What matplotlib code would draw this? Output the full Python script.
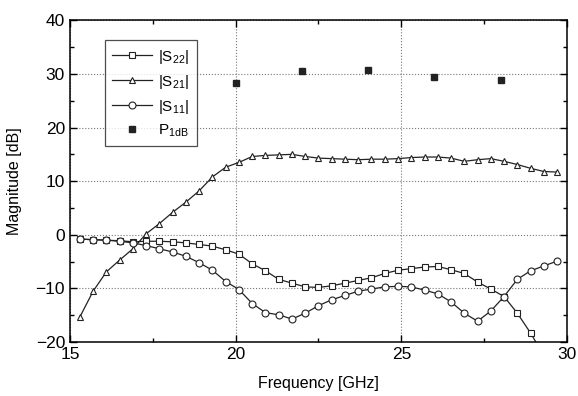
import matplotlib
matplotlib.use('Agg')
import numpy as np
import matplotlib.pyplot as plt
from matplotlib.ticker import MultipleLocator

plt.rcParams['font.family'] = ['Liberation Sans', 'DejaVu Sans']
plt.rcParams['mathtext.fontset'] = 'custom'
plt.rcParams['mathtext.rm'] = 'Liberation Sans'
plt.rcParams['mathtext.it'] = 'Liberation Sans'

# Frequency points (GHz)
freq = [15.3, 15.7, 16.1, 16.5, 16.9, 17.3, 17.7, 18.1, 18.5, 18.9,
        19.3, 19.7, 20.1, 20.5, 20.9, 21.3, 21.7, 22.1, 22.5, 22.9,
        23.3, 23.7, 24.1, 24.5, 24.9, 25.3, 25.7, 26.1, 26.5, 26.9,
        27.3, 27.7, 28.1, 28.5, 28.9, 29.3, 29.7]

s22 = [-0.8, -0.9, -1.0, -1.1, -1.3, -1.2, -1.2, -1.3, -1.5, -1.8,
       -2.1, -2.8, -3.6, -5.4, -6.7, -8.3, -9.0, -9.7, -9.8, -9.5,
       -9.0, -8.5, -8.0, -7.2, -6.6, -6.3, -6.0, -5.9, -6.5, -7.2,
       -8.8, -10.1, -11.5, -14.6, -18.3, -22.5, np.nan]

s21 = [-15.3, -10.5, -6.9, -4.7, -2.6, 0.2, 2.1, 4.2, 6.1, 8.2,
       10.8, 12.6, 13.5, 14.6, 14.8, 14.9, 15.0, 14.6, 14.3, 14.2,
       14.1, 14.0, 14.1, 14.1, 14.2, 14.4, 14.5, 14.5, 14.3, 13.7,
       14.0, 14.2, 13.7, 13.1, 12.4, 11.8, 11.7]

s11 = [-0.8, -0.9, -1.0, -1.2, -1.5, -2.0, -2.6, -3.2, -4.0, -5.2,
       -6.6, -8.7, -10.2, -12.8, -14.5, -14.9, -15.7, -14.6, -13.2, -12.1,
       -11.3, -10.5, -10.1, -9.7, -9.6, -9.7, -10.3, -11.0, -12.5, -14.6,
       -16.1, -14.2, -11.5, -8.3, -6.7, -5.8, -4.9]

p1db_freq = [20, 22, 24, 26, 28]
p1db = [28.3, 30.6, 30.8, 29.4, 28.9]

fig = plt.figure(figsize=(5.78, 3.96), dpi=100)
ax = fig.add_axes([0.121, 0.136, 0.860, 0.813])

mk = dict(color='#222222', lw=0.9, markersize=5, markerfacecolor='white',
          markeredgewidth=0.8)
ax.plot(freq, s22, marker='s', label=r'$|S_{22}|$', **mk)
ax.plot(freq, s21, marker='^', label=r'$|S_{21}|$', **mk)
ax.plot(freq, s11, marker='o', label=r'$|S_{11}|$', **mk)
ax.plot(p1db_freq, p1db, 's', color='#222222', markersize=5,
        linestyle='none', label=r'$P_{1dB}$')

ax.set_xlim(15, 30)
ax.set_ylim(-20, 40)
ax.xaxis.set_major_locator(MultipleLocator(5))
ax.xaxis.set_minor_locator(MultipleLocator(2.5))
ax.yaxis.set_major_locator(MultipleLocator(10))
ax.yaxis.set_minor_locator(MultipleLocator(5))
ax.tick_params(which='both', direction='in', top=True, right=True,
               labelsize=12.5, width=1)
ax.tick_params(which='major', length=5)
ax.tick_params(which='minor', length=3)
ax.grid(True, which='major', linestyle=':', color='#777777', lw=0.8)
for s in ax.spines.values():
    s.set_linewidth(1.1)

ax.set_xlabel('Frequency [GHz]', fontsize=11.5, labelpad=10)
ax.set_ylabel('Magnitude [dB]', fontsize=11.5, labelpad=10)

leg = ax.legend(loc='upper left', bbox_to_anchor=(0.070, 0.938), fontsize=11,
                frameon=True, fancybox=False, edgecolor='#222222',
                numpoints=1, handlelength=2.6, handletextpad=0.4,
                borderpad=0.5, labelspacing=0.45, borderaxespad=0)
leg.get_frame().set_linewidth(0.9)

plt.savefig('out.png', dpi=100)
